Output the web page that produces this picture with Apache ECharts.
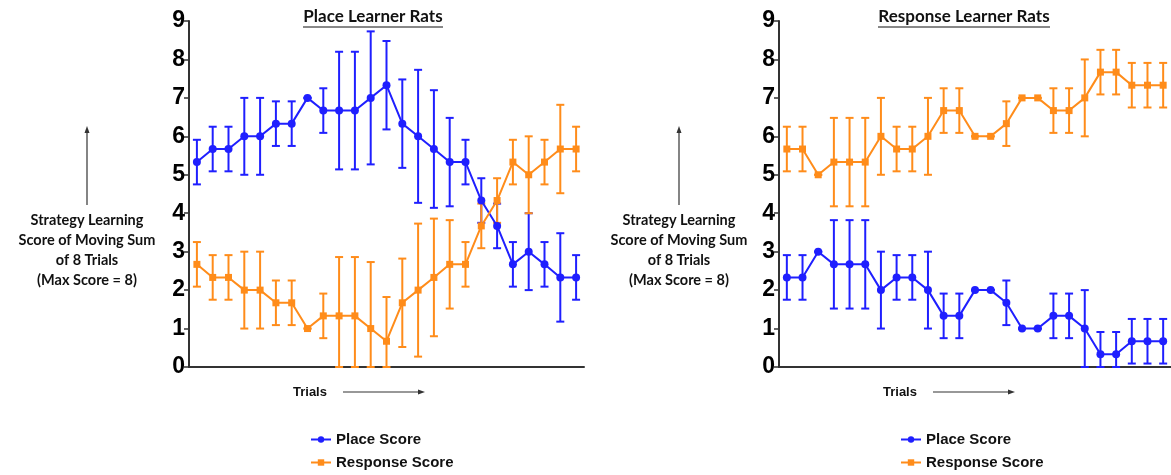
<!DOCTYPE html>
<html>
<head>
<meta charset="utf-8">
<script src="https://cdn.jsdelivr.net/npm/echarts@6/dist/echarts.min.js"></script>
<style>
  html, body { margin: 0; padding: 0; background: #fff; }
  #chart { width: 1171px; height: 475px; }
</style>
</head>
<body>
<div id="chart"></div>
<script>
var trials = [];
for (var t = 1; t <= 25; t++) trials.push(String(t));

// Place learner rats
var placeLearnerPlace    = [5.33, 5.67, 5.67, 6.00, 6.00, 6.33, 6.33, 7.00, 6.67, 6.67, 6.67, 7.00, 7.33, 6.33, 6.00, 5.67, 5.33, 5.33, 4.33, 3.67, 2.67, 3.00, 2.67, 2.33, 2.33];
var placeLearnerPlaceErr = [0.58, 0.58, 0.58, 1.00, 1.00, 0.58, 0.58, 0.00, 0.58, 1.53, 1.53, 1.73, 1.15, 1.15, 1.73, 1.53, 1.15, 0.58, 0.58, 0.58, 0.58, 1.00, 0.58, 1.15, 0.58];
var placeLearnerResp     = [2.67, 2.33, 2.33, 2.00, 2.00, 1.67, 1.67, 1.00, 1.33, 1.33, 1.33, 1.00, 0.67, 1.67, 2.00, 2.33, 2.67, 2.67, 3.67, 4.33, 5.33, 5.00, 5.33, 5.67, 5.67];
var placeLearnerRespErr  = [0.58, 0.58, 0.58, 1.00, 1.00, 0.58, 0.58, 0.00, 0.58, 1.53, 1.53, 1.73, 1.15, 1.15, 1.73, 1.53, 1.15, 0.58, 0.58, 0.58, 0.58, 1.00, 0.58, 1.15, 0.58];

// Response learner rats
var respLearnerPlace     = [2.33, 2.33, 3.00, 2.67, 2.67, 2.67, 2.00, 2.33, 2.33, 2.00, 1.33, 1.33, 2.00, 2.00, 1.67, 1.00, 1.00, 1.33, 1.33, 1.00, 0.33, 0.33, 0.67, 0.67, 0.67];
var respLearnerPlaceErr  = [0.58, 0.58, 0.00, 1.15, 1.15, 1.15, 1.00, 0.58, 0.58, 1.00, 0.58, 0.58, 0.00, 0.00, 0.58, 0.00, 0.00, 0.58, 0.58, 1.00, 0.58, 0.58, 0.58, 0.58, 0.58];
var respLearnerResp      = [5.67, 5.67, 5.00, 5.33, 5.33, 5.33, 6.00, 5.67, 5.67, 6.00, 6.67, 6.67, 6.00, 6.00, 6.33, 7.00, 7.00, 6.67, 6.67, 7.00, 7.67, 7.67, 7.33, 7.33, 7.33];
var respLearnerRespErr   = [0.58, 0.58, 0.00, 1.15, 1.15, 1.15, 1.00, 0.58, 0.58, 1.00, 0.58, 0.58, 0.00, 0.00, 0.58, 0.00, 0.00, 0.58, 0.58, 1.00, 0.58, 0.58, 0.58, 0.58, 0.58];

var yTicks = [0, 1, 2, 3, 4, 5, 6, 7, 8, 9];

var BLUE = '#1f1fff';
var ORANGE = '#ff8c1a';

var chart = echarts.init(document.getElementById('chart'));

function errData(vals, errs) {
    var out = [];
    for (var i = 0; i < vals.length; i++) {
        out.push([i, vals[i] - errs[i], vals[i] + errs[i]]);
    }
    return out;
}

function errSeries(name, idx, vals, errs, color) {
    return {
        name: name,
        type: 'custom',
        xAxisIndex: idx,
        yAxisIndex: idx,
        data: errData(vals, errs),
        itemStyle: { color: color },
        z: 1,
        renderItem: function (params, api) {
            var x = api.value(0);
            var lo = Math.max(api.value(1), 0);
            var hi = api.value(2);
            var p1 = api.coord([x, hi]);
            var p2 = api.coord([x, lo]);
            var w = 4;
            var st = { stroke: color, lineWidth: 2 };
            return {
                type: 'group',
                children: [
                    { type: 'line', shape: { x1: p1[0], y1: p1[1], x2: p2[0], y2: p2[1] }, style: st },
                    { type: 'line', shape: { x1: p1[0] - w, y1: p1[1], x2: p1[0] + w, y2: p1[1] }, style: st },
                    { type: 'line', shape: { x1: p2[0] - w, y1: p2[1], x2: p2[0] + w, y2: p2[1] }, style: st }
                ]
            };
        }
    };
}

function lineSeries(name, idx, vals, color, symbol, size) {
    return {
        name: name,
        type: 'line',
        xAxisIndex: idx,
        yAxisIndex: idx,
        data: vals,
        symbol: symbol,
        symbolSize: size,
        z: 3,
        lineStyle: { color: color, width: 2 },
        itemStyle: { color: color }
    };
}

function xAxisFor(idx) {
    return {
        type: 'category',
        gridIndex: idx,
        data: trials,
        boundaryGap: true,
        axisLine: { lineStyle: { color: '#333', width: 2 } },
        axisTick: { alignWithLabel: true, length: 4, lineStyle: { color: '#333', width: 1.5 } },
        axisLabel: { show: false }
    };
}

function yAxisFor(idx) {
    return {
        type: 'value',
        gridIndex: idx,
        min: 0,
        max: 9,
        interval: 1,
        splitLine: { show: false },
        axisLine: { show: true, lineStyle: { color: '#333', width: 2 } },
        axisTick: { show: true, length: 5, lineStyle: { color: '#333', width: 1.5 } },
        axisLabel: {
            color: '#000',
            fontFamily: 'Liberation Sans',
            fontWeight: 'bold',
            fontSize: 23,
            margin: 4,
            formatter: function (v) { return yTicks.indexOf(v) >= 0 ? String(v) : ''; }
        }
    };
}

var labelLines = 'Strategy Learning\nScore of Moving Sum\nof 8 Trials\n(Max Score = 8)';

function sideGraphics(cx, trialsX) {
    var black = '#111';
    return [
        { type: 'line', shape: { x1: cx, y1: 205, x2: cx, y2: 131 }, style: { stroke: '#333', lineWidth: 1.2 } },
        { type: 'polygon', shape: { points: [[cx - 2.5, 133], [cx + 2.5, 133], [cx, 126]] }, style: { fill: '#333' } },
        {
            type: 'text', x: cx, y: 210,
            style: { text: labelLines, fill: black, font: 'bold 14.5px Lato', align: 'center', verticalAlign: 'top', lineHeight: 20 }
        },
        {
            type: 'text', x: trialsX, y: 392,
            style: { text: 'Trials', fill: black, font: 'bold 13px "Liberation Sans"', align: 'left', verticalAlign: 'middle' }
        },
        { type: 'line', shape: { x1: trialsX + 50, y1: 392, x2: trialsX + 127, y2: 392 }, style: { stroke: '#333', lineWidth: 1.2 } },
        { type: 'polygon', shape: { points: [[trialsX + 125, 389.5], [trialsX + 125, 394.5], [trialsX + 132, 392]] }, style: { fill: '#333' } }
    ];
}

function titleGraphics(cx, text, halfW) {
    return [
        {
            type: 'text', x: cx, y: 17,
            style: { text: text, fill: '#111', font: 'bold 17px Lato', align: 'center', verticalAlign: 'middle' }
        },
        { type: 'line', shape: { x1: cx - halfW, y1: 27, x2: cx + halfW, y2: 27 }, style: { stroke: '#111', lineWidth: 1 } }
    ];
}

function legendFor(left) {
    return {
        orient: 'vertical', left: left, top: 432, height: 43, padding: 0,
        itemGap: 8, itemWidth: 20, itemHeight: 8,
        data: ['Place Score', 'Response Score'],
        textStyle: { color: '#111', fontFamily: 'Liberation Sans', fontWeight: 'bold', fontSize: 15 }
    };
}

var option = {
    backgroundColor: '#fff',
    animation: false,
    grid: [
        { left: 189, top: 21, width: 395, height: 346 },
        { left: 779, top: 21, width: 396, height: 346 }
    ],
    xAxis: [xAxisFor(0), xAxisFor(1)],
    yAxis: [yAxisFor(0), yAxisFor(1)],
    legend: [legendFor(310), legendFor(900)],
    graphic: [].concat(
        titleGraphics(373, 'Place Learner Rats', 70),
        titleGraphics(964, 'Response Learner Rats', 86),
        sideGraphics(87, 293),
        sideGraphics(679, 883)
    ),
    series: [
        lineSeries('Place Score', 0, placeLearnerPlace, BLUE, 'circle', 8),
        lineSeries('Response Score', 0, placeLearnerResp, ORANGE, 'rect', 7),
        lineSeries('Place Score', 1, respLearnerPlace, BLUE, 'circle', 8),
        lineSeries('Response Score', 1, respLearnerResp, ORANGE, 'rect', 7),
        errSeries('Place Score', 0, placeLearnerPlace, placeLearnerPlaceErr, BLUE),
        errSeries('Response Score', 0, placeLearnerResp, placeLearnerRespErr, ORANGE),
        errSeries('Place Score', 1, respLearnerPlace, respLearnerPlaceErr, BLUE),
        errSeries('Response Score', 1, respLearnerResp, respLearnerRespErr, ORANGE)
    ]
};

chart.setOption(option);
</script>
</body>
</html>
